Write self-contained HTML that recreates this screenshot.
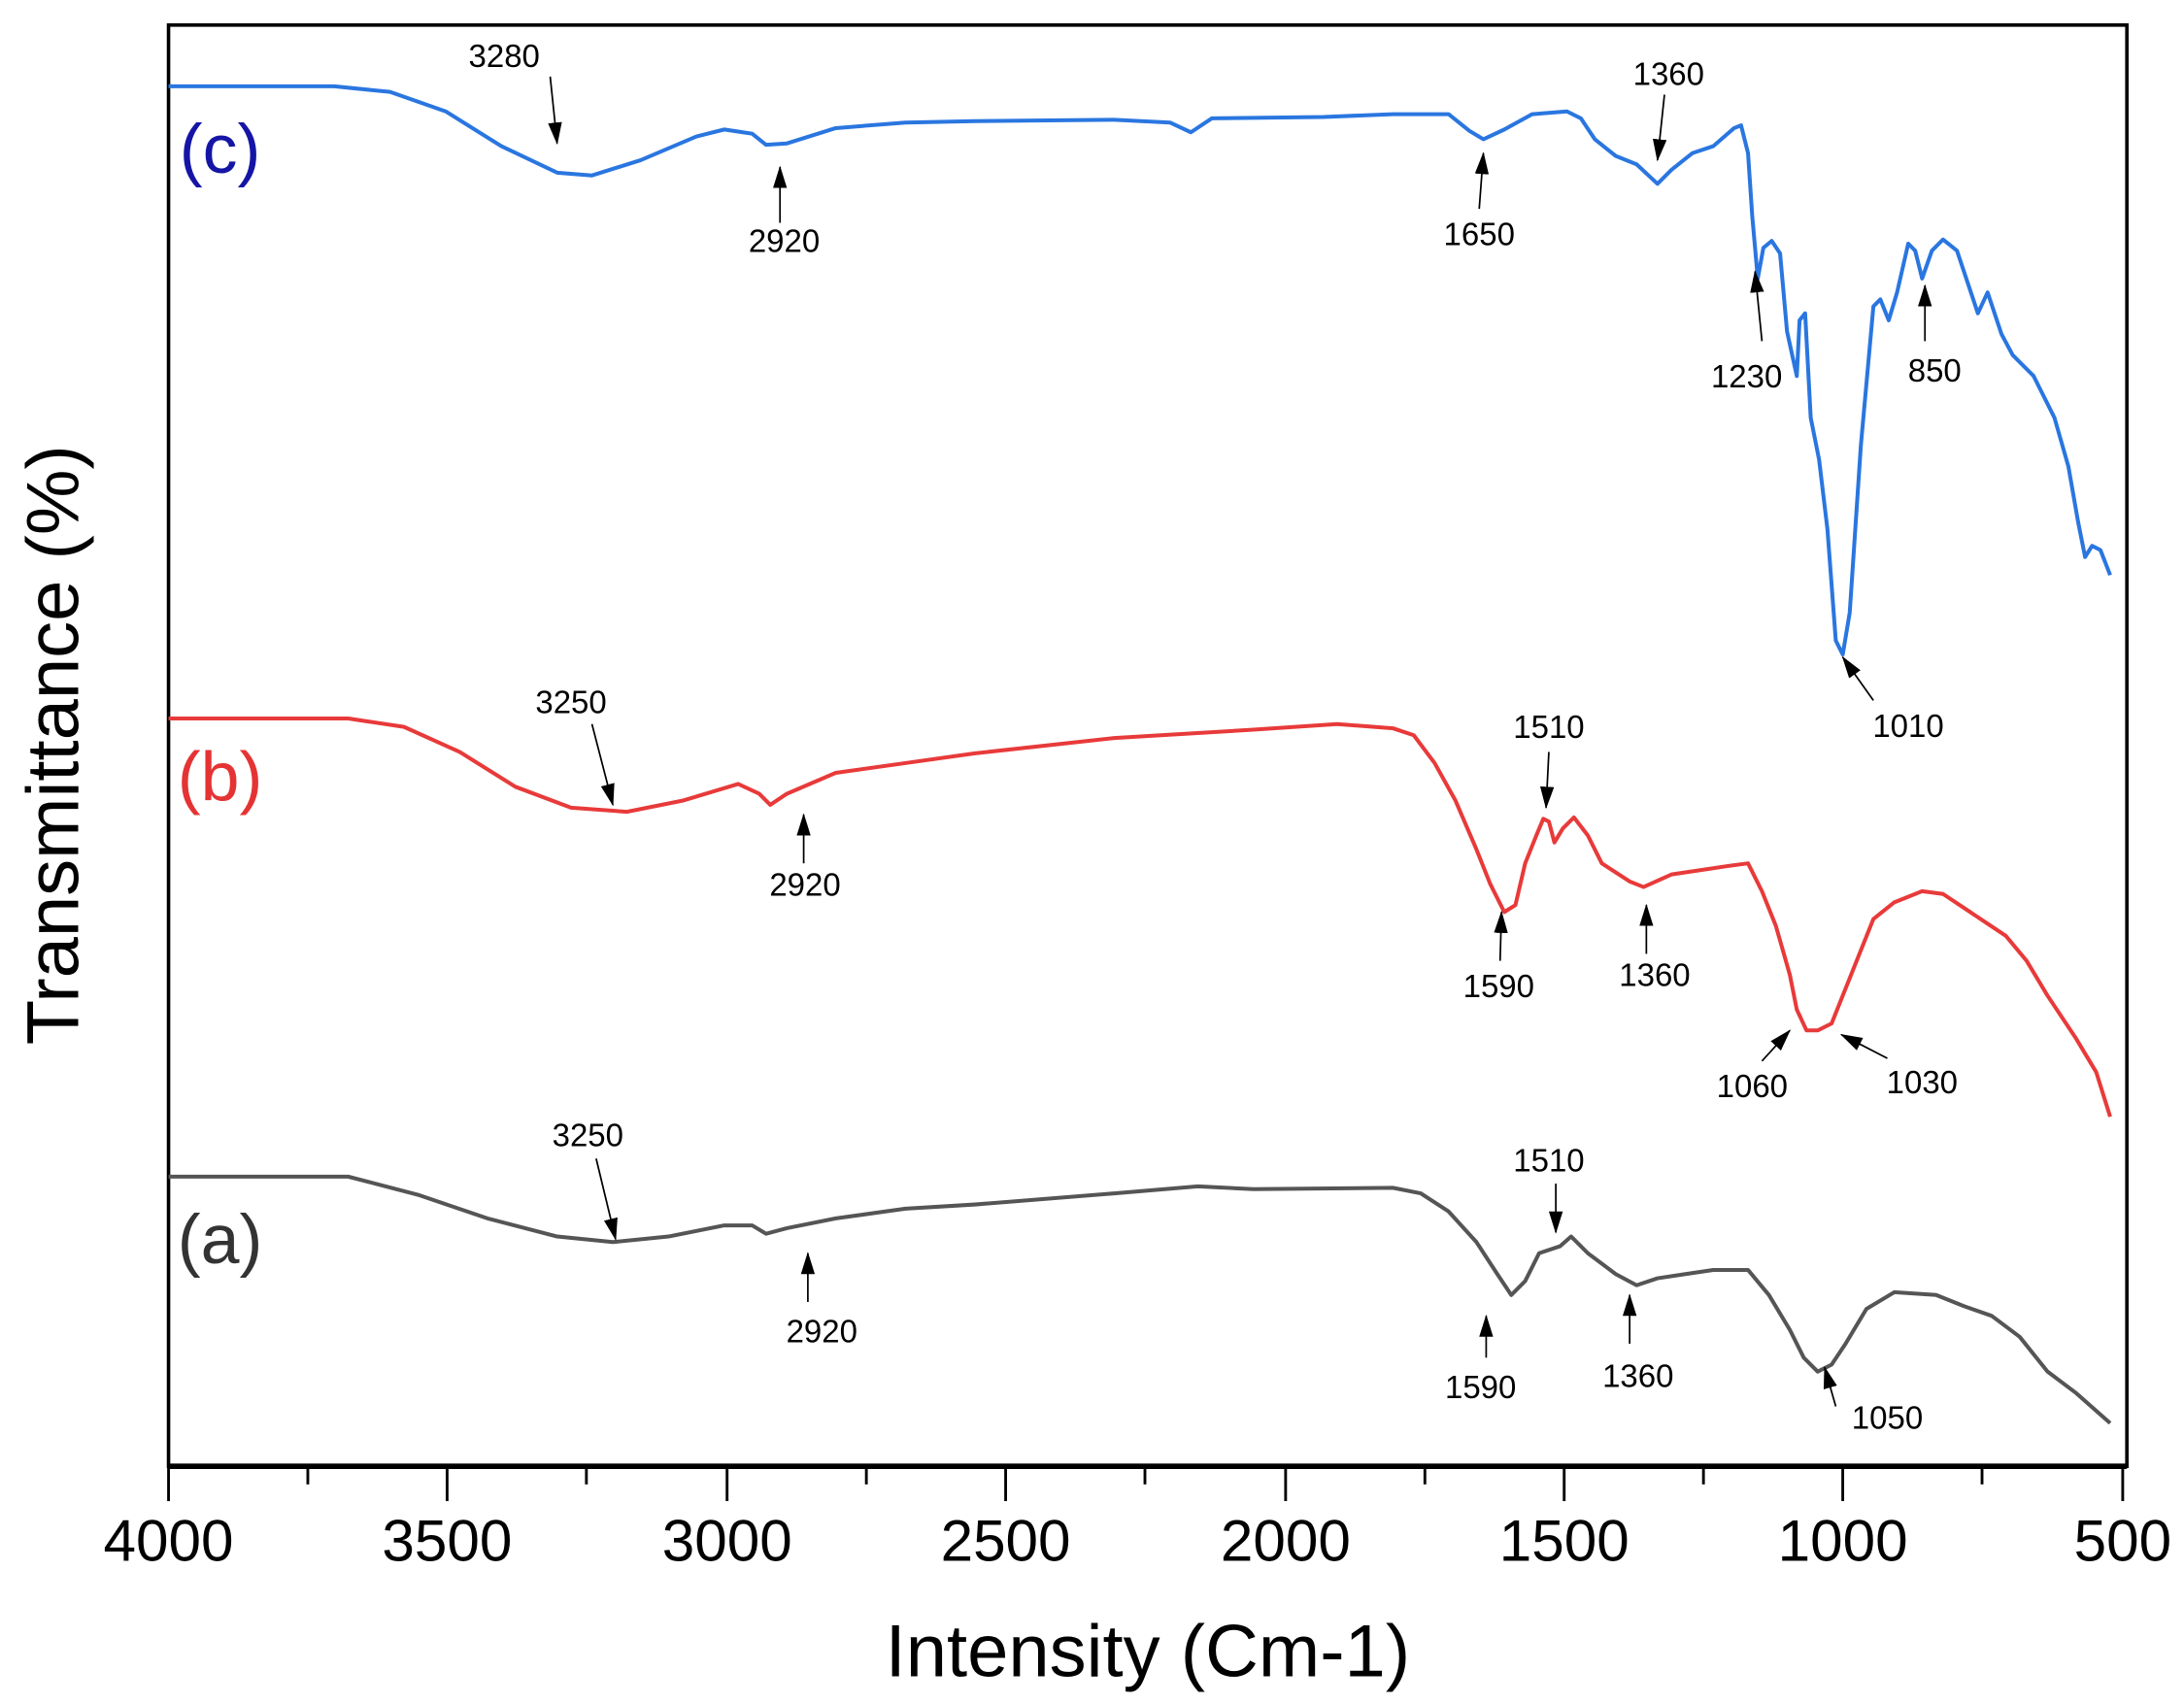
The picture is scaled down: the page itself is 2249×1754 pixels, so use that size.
<!DOCTYPE html>
<html><head><meta charset="utf-8"><style>html,body{margin:0;padding:0;background:#fff}svg{display:block}</style></head>
<body>
<svg width="2249" height="1754" viewBox="0 0 1568 1223" preserveAspectRatio="none" xmlns="http://www.w3.org/2000/svg" font-family="Liberation Sans, sans-serif">
<defs>
<marker id="ah2" markerWidth="16" markerHeight="10" refX="15" refY="5" orient="auto" markerUnits="userSpaceOnUse" viewBox="0 0 16 10"><path d="M0,0 L16,5 L0,10 Z" fill="#000"/></marker></defs>
<rect x="121" y="18" width="1406" height="1035" fill="none" stroke="#000" stroke-width="2.5"/>
<line x1="121" y1="1053" x2="1527" y2="1053" stroke="#000" stroke-width="4"/>
<g stroke="#000" stroke-width="2">
<line x1="121" y1="1053" x2="121" y2="1078"/><line x1="221" y1="1053" x2="221" y2="1066"/>
<line x1="321" y1="1053" x2="321" y2="1078"/><line x1="421" y1="1053" x2="421" y2="1066"/>
<line x1="522" y1="1053" x2="522" y2="1078"/><line x1="622" y1="1053" x2="622" y2="1066"/>
<line x1="722" y1="1053" x2="722" y2="1078"/><line x1="822" y1="1053" x2="822" y2="1066"/>
<line x1="923" y1="1053" x2="923" y2="1078"/><line x1="1023" y1="1053" x2="1023" y2="1066"/>
<line x1="1123" y1="1053" x2="1123" y2="1078"/><line x1="1223" y1="1053" x2="1223" y2="1066"/>
<line x1="1323" y1="1053" x2="1323" y2="1078"/><line x1="1423" y1="1053" x2="1423" y2="1066"/>
<line x1="1524" y1="1053" x2="1524" y2="1078"/>
</g>
<g font-size="42" text-anchor="middle" fill="#000">
<text x="121" y="1121">4000</text><text x="321" y="1121">3500</text><text x="522" y="1121">3000</text><text x="722" y="1121">2500</text><text x="923" y="1121">2000</text><text x="1123" y="1121">1500</text><text x="1323" y="1121">1000</text><text x="1524" y="1121">500</text>
</g>
<text x="824" y="1204" font-size="53" text-anchor="middle">Intensity (Cm-1)</text>
<text transform="translate(56,535) rotate(-90)" font-size="53" text-anchor="middle">Transmittance (%)</text>
<text x="158" y="124" font-size="50" text-anchor="middle" fill="#1515a5">(c)</text>
<text x="158" y="575" font-size="50" text-anchor="middle" fill="#e53333">(b)</text>
<text x="158" y="907" font-size="50" text-anchor="middle" fill="#333">(a)</text>
<g fill="none" stroke-width="2.8" stroke-linejoin="round">
<polyline stroke="#2a76e0" points="121,62 240,62 280,66 320,80 360,105 400,124 425,126 460,115 500,98 520,93 540,96 550,104 565,103 600,92 650,88 700,87 800,86 840,88 855,95 870,85 950,84 1000,82 1040,82 1055,94 1065,100 1080,93 1100,82 1125,80 1135,85 1145,100 1160,112 1175,118 1190,132 1200,122 1215,110 1230,105 1245,92 1250,90 1255,110 1258,155 1262,200 1266,178 1272,173 1278,182 1283,238 1290,270 1292,230 1296,225 1300,300 1306,330 1312,380 1318,460 1323,470 1328,440 1336,320 1345,220 1350,215 1356,230 1362,210 1370,175 1375,180 1380,200 1387,180 1395,172 1405,180 1415,210 1420,225 1427,210 1437,240 1445,255 1460,270 1475,300 1485,335 1492,375 1497,400 1502,392 1508,395 1515,413"/>
<polyline stroke="#e83a3a" points="121,516 250,516 290,522 330,540 370,565 410,580 450,583 490,575 530,563 545,570 553,578 565,570 600,555 650,548 700,541 800,530 900,524 960,520 1000,523 1015,528 1030,548 1045,575 1060,610 1070,635 1080,655 1088,650 1095,620 1103,600 1108,588 1112,590 1116,605 1122,595 1130,587 1140,600 1150,620 1170,633 1180,637 1200,628 1220,625 1240,622 1255,620 1265,640 1275,665 1285,700 1290,725 1297,740 1305,740 1315,735 1325,710 1335,685 1345,660 1360,648 1380,640 1395,642 1410,652 1425,662 1440,672 1455,690 1470,715 1490,745 1505,770 1515,802"/>
<polyline stroke="#555" points="121,845 250,845 300,858 350,875 400,888 440,892 480,888 520,880 540,880 550,886 565,882 600,875 650,868 700,865 800,857 860,852 900,854 1000,853 1020,857 1040,870 1060,892 1075,915 1085,930 1095,920 1105,900 1120,895 1128,888 1140,900 1160,915 1175,923 1190,918 1210,915 1230,912 1255,912 1270,930 1285,955 1295,975 1305,985 1315,980 1325,965 1340,940 1360,928 1390,930 1410,938 1430,945 1450,960 1470,985 1490,1000 1515,1022"/>
</g>
<g stroke="#000" stroke-width="1.2" marker-end="url(#ah2)">
<line x1="395" y1="55" x2="400" y2="103"/><line x1="560" y1="160" x2="560" y2="120"/>
<line x1="1062" y1="150" x2="1065" y2="110"/><line x1="1195" y1="68" x2="1190" y2="115"/>
<line x1="1265" y1="245" x2="1260" y2="195"/><line x1="1382" y1="245" x2="1382" y2="205"/>
<line x1="1345" y1="503" x2="1323" y2="472"/>
<line x1="425" y1="520" x2="440" y2="578"/><line x1="577" y1="620" x2="577" y2="585"/>
<line x1="1112" y1="540" x2="1110" y2="580"/><line x1="1077" y1="690" x2="1078" y2="655"/>
<line x1="1182" y1="685" x2="1182" y2="650"/><line x1="1265" y1="762" x2="1285" y2="740"/>
<line x1="1355" y1="760" x2="1322" y2="743"/>
<line x1="428" y1="832" x2="442" y2="890"/><line x1="580" y1="935" x2="580" y2="900"/>
<line x1="1117" y1="850" x2="1117" y2="885"/><line x1="1067" y1="975" x2="1067" y2="945"/>
<line x1="1170" y1="965" x2="1170" y2="930"/><line x1="1318" y1="1010" x2="1310" y2="982"/>
</g>
<g font-size="23" text-anchor="middle" dominant-baseline="middle" fill="#000">
<text x="362" y="42">3280</text><text x="563" y="175">2920</text><text x="1062" y="170">1650</text><text x="1198" y="55">1360</text>
<text x="1254" y="272">1230</text><text x="1389" y="268">850</text><text x="1370" y="523">1010</text>
<text x="410" y="506">3250</text><text x="578" y="637">2920</text><text x="1112" y="524">1510</text><text x="1076" y="710">1590</text>
<text x="1188" y="702">1360</text><text x="1258" y="782">1060</text><text x="1380" y="779">1030</text>
<text x="422" y="817">3250</text><text x="590" y="958">2920</text><text x="1112" y="835">1510</text><text x="1063" y="998">1590</text>
<text x="1176" y="990">1360</text><text x="1355" y="1020">1050</text>
</g>
</svg>
</body></html>
